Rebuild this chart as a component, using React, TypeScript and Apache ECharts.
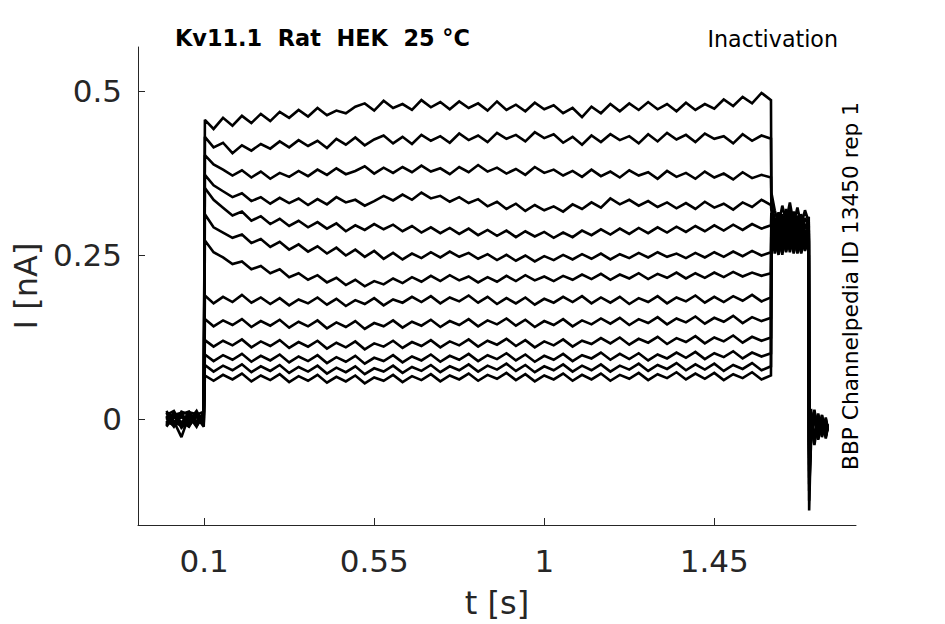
import { useEffect, useRef } from "react";
import * as echarts from "echarts";

// Time grid pieces (s)
const preTimes = [0, 0.02, 0.04, 0.06, 0.08, 0.099];
const tailTimes = [1.601, 1.61, 1.62, 1.63, 1.64, 1.65, 1.66, 1.67, 1.68, 1.69, 1.7];
const postTimes = [1.701, 1.706, 1.715, 1.725, 1.735, 1.745, 1.75];
const stepStart = 0.102;
const stepDt = 0.025;

// Currents in pA
const pre1 = [5, -8, 3, -6, 8, -2];
const pre2 = [-6, 10, -12, 7, -4, 9];
const pre3 = [12, -4, -28, 5, -9, 6];
const pre4 = [-10, 6, 9, -11, 4, -6];
const pre5 = [3, -12, 7, 11, -7, 2];
const pre6 = [-2, 8, -14, -3, 12, -9];
const pre7 = [9, -5, 4, -8, 6, 11];
const pre8 = [-12, 3, -6, 9, -11, 4];
const pre9 = [6, 12, -9, -4, 3, -12];
const pre10 = [-4, -10, 11, 6, -6, 8];
const pre11 = [10, 2, -5, -12, 9, -3];
const pre12 = [-8, 7, 2, 4, -12, 10];
const pre13 = [2, -6, -10, 10, 7, -7];

const step1 = [456,
  442, 459, 447, 462, 451, 465, 454, 468, 459, 471,
  461, 474, 463, 470, 466, 476, 481, 470, 485, 474,
  480, 471, 486, 475, 483, 472, 484, 474, 481, 470,
  484, 471, 479, 469, 482, 472, 478, 466, 474, 460,
  476, 466, 480, 469, 481, 471, 483, 472, 480, 469,
  482, 471, 480, 473, 487, 477, 491, 481, 497, 486];
const step2 = [430,
  414, 421, 405, 417, 409, 419, 412, 423, 414, 425,
  416, 424, 413, 427, 418, 429, 417, 426, 432, 420,
  430, 419, 433, 424, 431, 421, 435, 425, 432, 422,
  436, 427, 433, 423, 437, 428, 434, 421, 430, 418,
  432, 422, 434, 425, 431, 420, 434, 423, 436, 426,
  433, 422, 435, 427, 431, 420, 434, 424, 432, 427];
const step3 = [402,
  388, 380, 371, 379, 368, 377, 366, 375, 369, 378,
  370, 380, 372, 382, 373, 378, 385, 374, 383, 375,
  384, 376, 386, 377, 382, 373, 384, 376, 387, 377,
  383, 374, 381, 372, 384, 375, 380, 371, 378, 369,
  380, 370, 377, 368, 379, 371, 376, 366, 378, 369,
  375, 366, 377, 368, 374, 365, 376, 367, 372, 368];
const step4 = [372,
  356, 347, 338, 344, 332, 338, 328, 337, 329, 336,
  326, 335, 327, 338, 330, 334, 325, 332, 340, 333,
  342, 334, 345, 336, 340, 331, 338, 329, 335, 324,
  331, 320, 328, 317, 326, 318, 324, 316, 327, 320,
  330, 322, 336, 327, 334, 325, 332, 323, 330, 321,
  329, 320, 331, 322, 328, 319, 330, 323, 334, 326];
const step5 = [352,
  334, 322, 310, 316, 302, 309, 297, 305, 294, 302,
  292, 300, 290, 298, 286, 295, 288, 297, 289, 296,
  286, 294, 284, 292, 283, 291, 282, 290, 280, 288,
  279, 287, 277, 286, 278, 285, 276, 284, 277, 287,
  280, 289, 281, 290, 282, 291, 283, 292, 284, 293,
  285, 294, 286, 295, 287, 296, 288, 297, 290, 295];
const step6 = [312,
  292, 284, 276, 281, 268, 274, 262, 270, 258, 266,
  255, 263, 252, 261, 249, 258, 247, 256, 244, 253,
  243, 252, 245, 254, 246, 255, 247, 253, 244, 251,
  242, 250, 241, 249, 240, 248, 242, 250, 243, 251,
  244, 252, 243, 251, 245, 253, 246, 254, 247, 252,
  245, 253, 246, 254, 247, 255, 248, 256, 249, 254];
const step7 = [272,
  254, 246, 236, 240, 228, 233, 222, 228, 216, 222,
  212, 219, 208, 215, 204, 212, 202, 210, 205, 214,
  207, 216, 209, 218, 210, 219, 211, 217, 208, 216,
  209, 218, 210, 219, 211, 217, 210, 218, 212, 220,
  213, 221, 212, 220, 214, 222, 213, 221, 215, 223,
  214, 222, 215, 223, 216, 224, 217, 223, 218, 222];
const step8 = [188,
  176, 186, 178, 189, 177, 185, 175, 184, 173, 182,
  176, 185, 174, 183, 172, 181, 175, 184, 173, 182,
  177, 186, 178, 187, 176, 185, 179, 188, 177, 186,
  175, 184, 176, 185, 174, 183, 177, 186, 178, 187,
  176, 185, 177, 186, 175, 184, 178, 187, 176, 185,
  179, 188, 177, 186, 178, 187, 180, 189, 179, 185];
const step9 = [152,
  141, 150, 143, 152, 140, 149, 142, 151, 139, 148,
  141, 150, 138, 147, 140, 149, 137, 146, 141, 150,
  139, 148, 142, 151, 140, 149, 143, 152, 141, 150,
  144, 153, 142, 151, 140, 149, 143, 152, 141, 150,
  144, 153, 145, 154, 143, 152, 146, 155, 144, 153,
  147, 156, 145, 154, 148, 157, 146, 155, 149, 154];
const step10 = [120,
  110, 119, 112, 121, 109, 118, 111, 120, 108, 117,
  110, 119, 107, 116, 109, 118, 106, 115, 110, 119,
  108, 117, 111, 120, 109, 118, 112, 121, 110, 119,
  113, 122, 111, 120, 109, 118, 112, 121, 110, 119,
  114, 123, 115, 124, 113, 122, 116, 125, 114, 123,
  117, 126, 115, 124, 118, 127, 116, 125, 119, 124];
const step11 = [98,
  88, 97, 90, 99, 87, 96, 89, 98, 86, 95,
  88, 97, 85, 94, 87, 96, 84, 93, 88, 97,
  86, 95, 89, 98, 87, 96, 90, 99, 88, 97,
  91, 100, 89, 98, 87, 96, 90, 99, 88, 97,
  92, 101, 90, 99, 91, 100, 89, 98, 92, 101,
  93, 102, 91, 100, 94, 103, 92, 101, 95, 100];
const step12 = [82,
  72, 81, 74, 83, 71, 80, 73, 82, 70, 79,
  72, 81, 69, 78, 71, 80, 68, 77, 72, 81,
  70, 79, 73, 82, 71, 80, 74, 83, 72, 81,
  75, 84, 73, 82, 71, 80, 74, 83, 72, 81,
  74, 83, 72, 81, 75, 84, 73, 82, 76, 85,
  74, 83, 75, 84, 73, 82, 76, 85, 74, 80];
const step13 = [66,
  58, 67, 60, 69, 57, 66, 59, 68, 56, 65,
  58, 67, 55, 64, 57, 66, 54, 63, 58, 67,
  56, 65, 59, 68, 57, 66, 60, 69, 58, 67,
  61, 70, 59, 68, 57, 66, 60, 69, 58, 67,
  60, 69, 58, 67, 61, 70, 59, 68, 62, 71,
  60, 69, 61, 70, 59, 68, 62, 71, 60, 66];

const tail1 = [345, 318, 296, 325, 301, 330, 298, 322, 295, 318, 300];
const tail2 = [332, 290, 315, 288, 320, 292, 316, 286, 312, 290, 308];
const tail3 = [326, 305, 280, 312, 284, 318, 282, 310, 280, 306, 296];
const tail4 = [318, 278, 308, 276, 312, 280, 305, 274, 300, 278, 294];
const tail5 = [314, 296, 268, 302, 272, 306, 270, 300, 268, 296, 286];
const tail6 = [310, 270, 298, 266, 300, 268, 296, 264, 292, 270, 288];
const tail7 = [306, 288, 262, 294, 266, 298, 264, 292, 262, 288, 282];
const tail8 = [302, 262, 290, 258, 294, 262, 290, 258, 286, 264, 282];
const tail9 = [298, 280, 256, 288, 260, 292, 258, 286, 258, 282, 278];
const tail10 = [296, 256, 284, 254, 290, 258, 284, 254, 282, 260, 276];
const tail11 = [294, 276, 252, 284, 256, 288, 256, 282, 254, 278, 274];
const tail12 = [292, 252, 280, 250, 286, 254, 280, 252, 278, 256, 272];
const tail13 = [290, 272, 250, 280, 254, 284, 252, 278, 252, 276, 270];

const post1 = [-140, -20, 12, -30, 5, -25, -8];
const post2 = [-125, 15, -35, 8, -28, 2, -15];
const post3 = [-110, -38, 10, -22, 6, -30, -12];
const post4 = [-100, 8, -30, 4, -20, -5, -18];
const post5 = [-90, -30, 14, -25, -2, -22, -10];
const post6 = [-80, 5, -40, 0, -26, -8, -14];
const post7 = [-70, -34, 6, -18, 2, -28, -16];
const post8 = [-60, 10, -28, -4, -24, 0, -12];
const post9 = [-55, -25, 2, -32, -6, -18, -10];
const post10 = [-50, 0, -36, 6, -22, -12, -16];
const post11 = [-45, -28, 8, -20, 0, -26, -14];
const post12 = [-40, 4, -30, -6, -18, -4, -12];
const post13 = [-35, -22, 0, -26, -10, -20, -15];

const xTicks = [0.1, 0.55, 1, 1.45];
const yTicks = [0, 0.25, 0.5];

const pres = [pre1, pre2, pre3, pre4, pre5, pre6, pre7, pre8, pre9, pre10, pre11, pre12, pre13];
const steps = [step1, step2, step3, step4, step5, step6, step7, step8, step9, step10, step11, step12, step13];
const tails = [tail1, tail2, tail3, tail4, tail5, tail6, tail7, tail8, tail9, tail10, tail11, tail12, tail13];
const posts = [post1, post2, post3, post4, post5, post6, post7, post8, post9, post10, post11, post12, post13];

function buildSweep(i: number): [number, number][] {
  const pts: [number, number][] = [];
  pres[i].forEach((v, k) => pts.push([preTimes[k], v / 1000]));
  steps[i].forEach((v, k) => pts.push([k === 0 ? stepStart : 0.1 + stepDt * k, v / 1000]));
  tails[i].forEach((v, k) => pts.push([tailTimes[k], v / 1000]));
  posts[i].forEach((v, k) => pts.push([postTimes[k], v / 1000]));
  return pts;
}

const FONT = "DejaVu Sans";
const AX = "#262626";

export default function App() {
  const ref = useRef<HTMLDivElement>(null);
  useEffect(() => {
    const chart = echarts.init(ref.current!, null, { renderer: "svg" });
    const series = steps.map((_, i) => ({
      type: "line",
      data: buildSweep(i),
      showSymbol: false,
      symbol: "none",
      lineStyle: { color: "#000", width: 2.6, join: "miter", miterLimit: 2 },
      silent: true,
    }));
    chart.setOption({
      animation: false,
      backgroundColor: "#fff",
      grid: { left: 138, top: 47, width: 718, height: 478, containLabel: false },
      xAxis: {
        type: "value",
        min: -0.075,
        max: 1.825,
        name: "t [s]",
        nameLocation: "middle",
        nameGap: 62,
        nameTextStyle: { fontFamily: FONT, fontSize: 32, color: AX },
        axisLine: { show: true, onZero: false, lineStyle: { color: AX, width: 1 } },
        axisTick: { show: true, inside: true, length: 7, lineStyle: { color: AX }, customValues: xTicks },
        axisLabel: { fontFamily: FONT, fontSize: 31, color: AX, margin: 20, customValues: xTicks },
        splitLine: { show: false },
      },
      yAxis: {
        type: "value",
        min: -0.162,
        max: 0.567,
        name: "I [nA]",
        nameLocation: "middle",
        nameGap: 95,
        nameTextStyle: { fontFamily: FONT, fontSize: 32, color: AX },
        axisLine: { show: true, onZero: false, lineStyle: { color: AX, width: 1 } },
        axisTick: { show: true, inside: true, length: 7, lineStyle: { color: AX }, customValues: yTicks },
        axisLabel: { fontFamily: FONT, fontSize: 31, color: AX, margin: 16, customValues: yTicks },
        splitLine: { show: false },
      },
      graphic: [
        {
          type: "text",
          left: 175,
          top: 27,
          style: { text: "Kv11.1  Rat  HEK  25 °C", fontFamily: FONT, fontSize: 22.4, fontWeight: "bold", fill: "#000" },
        },
        {
          type: "text",
          x: 838,
          y: 39,
          style: { text: "Inactivation", fontFamily: FONT, fontSize: 22.2, fill: "#000", textAlign: "right", textVerticalAlign: "middle" },
        },
        {
          type: "text",
          x: 850,
          y: 286,
          rotation: Math.PI / 2,
          style: { text: "BBP Channelpedia ID 13450 rep 1", fontFamily: FONT, fontSize: 21.7, fill: "#000", textAlign: "center", textVerticalAlign: "middle" },
        },
      ],
      series,
    });
    return () => chart.dispose();
  }, []);
  return (
    <div
      ref={ref}
      style={{ position: "fixed", left: 0, top: 0, width: 945, height: 624, background: "#fff" }}
    />
  );
}
